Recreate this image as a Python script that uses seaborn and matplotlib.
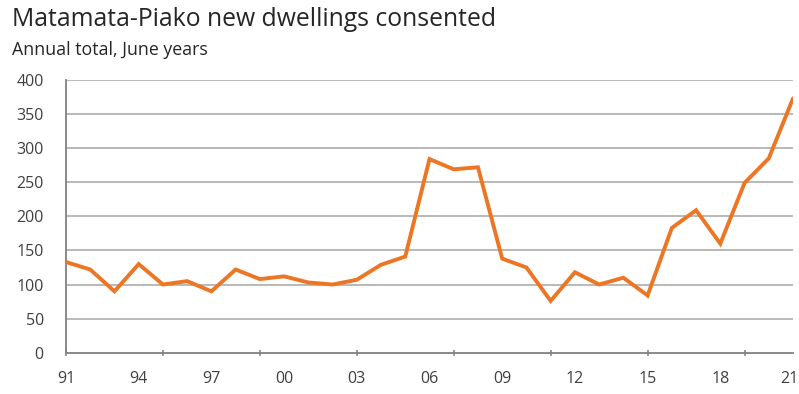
import matplotlib
matplotlib.use("Agg")
import matplotlib.pyplot as plt
import matplotlib.ticker as mticker
import matplotlib.transforms as mtransforms
import seaborn as sns
import pandas as pd

# Annual new dwellings consented, June years 1991-2021
years = list(range(1991, 2022))
consents = [133, 122, 90, 130, 100, 105, 90, 122, 108, 112, 103, 100, 107,
            129, 141, 284, 269, 272, 138, 125, 76, 118, 100, 110, 84, 183,
            209, 160, 249, 285, 373]

label_years = list(range(1991, 2022, 3))
tick_years = list(range(1991, 2022, 4))
y_ticks = [0, 50, 100, 150, 200, 250, 300, 350, 400]

df = pd.DataFrame({"year": years, "consents": consents})

sns.set_theme(style="white")
plt.rcParams["font.family"] = ["Open Sans", "DejaVu Sans"]

fig = plt.figure(figsize=(7.99, 3.94), dpi=100)
ax = fig.add_axes([66 / 799, 1 - 352.7 / 394, (793 - 66) / 799, (352.7 - 80) / 394])

grid_col = "#a6a6a6"
text_col = "#404040"

ax.set_axisbelow(True)
for v in y_ticks[1:]:
    ax.axhline(v, color=grid_col, lw=1.1, zorder=0)

sns.lineplot(data=df, x="year", y="consents", ax=ax, color="#ec7623",
             lw=2.8, solid_joinstyle="miter", zorder=3)

ax.set_xlim(1991, 2021)
ax.set_ylim(0, 400)
ax.set_xlabel("")
ax.set_ylabel("")

# major ticks every four years carry only the tick marks,
# the two-digit year labels sit on a three-year spacing
ax.xaxis.remove_overlapping_locs = False
ax.xaxis.set_major_locator(mticker.FixedLocator(tick_years))
ax.xaxis.set_major_formatter(mticker.NullFormatter())
ax.xaxis.set_minor_locator(mticker.FixedLocator(label_years))
ax.xaxis.set_minor_formatter(mticker.FixedFormatter([f"{y % 100:02d}" for y in label_years]))
ax.tick_params(axis="x", which="major", length=5, width=1.1, color="#808080",
               direction="inout", bottom=True)
ax.tick_params(axis="x", which="minor", length=0, pad=13, labelsize=11.5,
               labelcolor=text_col, bottom=True)

# keep the last year label inside the canvas
fig.canvas.draw()
last = ax.xaxis.get_minor_ticks()[-1].label1
last.set_transform(last.get_transform() +
                   mtransforms.ScaledTranslation(-4 / 100, 0, fig.dpi_scale_trans))

ax.set_yticks(y_ticks)
ax.tick_params(axis="y", length=0, pad=16, labelsize=11.5, labelcolor=text_col)

for side in ["top", "right"]:
    ax.spines[side].set_visible(False)
for side in ["left", "bottom"]:
    ax.spines[side].set_color("#808080")
    ax.spines[side].set_linewidth(1.3)

fig.text(12 / 799, 1 - 20 / 394, "Matamata-Piako new dwellings consented",
         fontsize=17.8, color="#262626", va="center", ha="left")
fig.text(12 / 799, 1 - 50 / 394, "Annual total, June years",
         fontsize=12.8, color="#262626", va="center", ha="left")

fig.savefig("out.png", dpi=100)
